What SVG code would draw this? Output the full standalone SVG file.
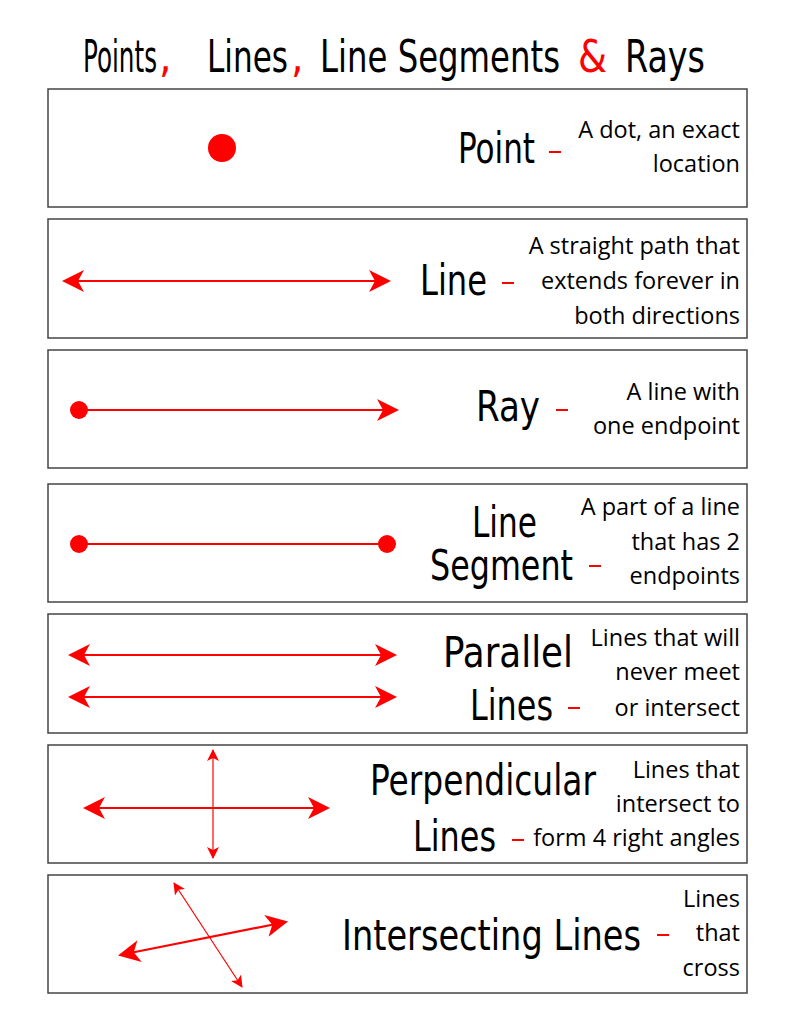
<svg xmlns="http://www.w3.org/2000/svg" width="791" height="1024" viewBox="0 0 791 1024">
<style>
.box{fill:#fff;stroke:#444;stroke-width:1.5}
.big{font-family:"DejaVu Sans Condensed","DejaVu Sans",sans-serif;font-size:42px;fill:#000}
.ttl{font-family:"DejaVu Sans Condensed","DejaVu Sans",sans-serif;font-size:44px;fill:#000}
.rc{fill:#f00}
.desc{font-family:"Open Sans","Liberation Sans",sans-serif;font-size:23.5px;fill:#000;text-anchor:end}
.dash{stroke:#f00;stroke-width:2}
.ln{stroke:#f00;stroke-width:2.2;fill:none}
.thin{stroke:#f00;stroke-width:1.2;fill:none}
.red{fill:#f00}
</style>
<defs>
<marker id="ah" markerUnits="userSpaceOnUse" viewBox="0 0 22 22" refX="20" refY="11" markerWidth="22" markerHeight="22" orient="auto-start-reverse"><path d="M0,0 L22,11 L0,22 L6,11 z" fill="#f00"/></marker>
<marker id="as" markerUnits="userSpaceOnUse" viewBox="0 0 12 12" refX="11" refY="6" markerWidth="12" markerHeight="12" orient="auto-start-reverse"><path d="M0,0 L12,6 L0,12 L3,6 z" fill="#f00"/></marker>
</defs>
<rect width="791" height="1024" fill="#fff"/>
<g id="title">
<text class="ttl" x="83" y="72" textLength="74" lengthAdjust="spacingAndGlyphs">Points</text>
<text class="ttl rc" x="159" y="72">,</text>
<text class="ttl" x="207" y="72" textLength="81" lengthAdjust="spacingAndGlyphs">Lines</text>
<text class="ttl rc" x="291" y="72">,</text>
<text class="ttl" x="320" y="72" textLength="240" lengthAdjust="spacingAndGlyphs">Line Segments</text>
<text class="ttl rc" x="578" y="72" textLength="29" lengthAdjust="spacingAndGlyphs">&amp;</text>
<text class="ttl" x="625" y="72" textLength="80" lengthAdjust="spacingAndGlyphs">Rays</text>
</g>

<g id="point"><rect class="box" x="48" y="89" width="699" height="118"/>
<circle class="red" cx="222" cy="148" r="14"/>
<text class="big" x="458" y="163" textLength="77" lengthAdjust="spacingAndGlyphs">Point</text>
<line class="dash" x1="549" y1="152" x2="561" y2="152"/>
<text class="desc" x="740" y="138">A dot, an exact</text><text class="desc" x="740" y="172">location</text></g>

<g id="line"><rect class="box" x="48" y="219" width="699" height="119"/>
<text class="big" x="420" y="295" textLength="67" lengthAdjust="spacingAndGlyphs">Line</text>
<line class="dash" x1="502" y1="283" x2="514" y2="283"/>
<text class="desc" x="740" y="254">A straight path that</text><text class="desc" x="740" y="289">extends forever in</text><text class="desc" x="740" y="324">both directions</text></g>

<g id="ray"><rect class="box" x="48" y="350" width="699" height="118"/>
<circle class="red" cx="79" cy="410" r="9"/>
<text class="big" x="476" y="421" textLength="64" lengthAdjust="spacingAndGlyphs">Ray</text>
<line class="dash" x1="556" y1="410" x2="568" y2="410"/>
<text class="desc" x="740" y="400">A line with</text><text class="desc" x="740" y="434">one endpoint</text></g>

<g id="segment"><rect class="box" x="48" y="484" width="699" height="118"/>
<circle class="red" cx="79" cy="544" r="9"/><circle class="red" cx="387" cy="544" r="9"/>
<text class="big" x="472" y="537" textLength="65" lengthAdjust="spacingAndGlyphs">Line</text>
<text class="big" x="430" y="580" textLength="143" lengthAdjust="spacingAndGlyphs">Segment</text>
<line class="dash" x1="589" y1="566" x2="601" y2="566"/>
<text class="desc" x="740" y="515">A part of a line</text><text class="desc" x="740" y="550">that has 2</text><text class="desc" x="740" y="584">endpoints</text></g>

<g id="parallel"><rect class="box" x="48" y="614" width="699" height="119"/>
<text class="big" x="443" y="667" textLength="130" lengthAdjust="spacingAndGlyphs">Parallel</text>
<text class="big" x="470" y="720" textLength="83" lengthAdjust="spacingAndGlyphs">Lines</text>
<line class="dash" x1="568" y1="708" x2="580" y2="708"/>
<text class="desc" x="740" y="646">Lines that will</text><text class="desc" x="740" y="680">never meet</text><text class="desc" x="740" y="716">or intersect</text></g>

<g id="perpendicular"><rect class="box" x="48" y="745" width="699" height="118"/>
<text class="big" x="370" y="795" textLength="226" lengthAdjust="spacingAndGlyphs">Perpendicular</text>
<text class="big" x="413" y="851" textLength="83" lengthAdjust="spacingAndGlyphs">Lines</text>
<line class="dash" x1="512" y1="840" x2="524" y2="840"/>
<text class="desc" x="740" y="778">Lines that</text><text class="desc" x="740" y="812">intersect to</text><text class="desc" x="740" y="846">form 4 right angles</text></g>

<g id="intersecting"><rect class="box" x="48" y="875" width="699" height="118"/>
<text class="big" x="342" y="950" textLength="299" lengthAdjust="spacingAndGlyphs">Intersecting Lines</text>
<line class="dash" x1="657" y1="935" x2="669" y2="935"/>
<text class="desc" x="740" y="907">Lines</text><text class="desc" x="740" y="941">that</text><text class="desc" x="740" y="976">cross</text></g>

<g id="connectors">
<line class="ln" x1="64" y1="281" x2="389" y2="281" marker-start="url(#ah)" marker-end="url(#ah)"/>
<line class="ln" x1="79" y1="410" x2="397" y2="410" marker-end="url(#ah)"/>
<line class="ln" x1="79" y1="544" x2="387" y2="544"/>
<line class="ln" x1="70" y1="655" x2="395" y2="655" marker-start="url(#ah)" marker-end="url(#ah)"/>
<line class="ln" x1="70" y1="697" x2="395" y2="697" marker-start="url(#ah)" marker-end="url(#ah)"/>
<line class="ln" x1="85" y1="808" x2="328" y2="808" marker-start="url(#ah)" marker-end="url(#ah)"/>
<line class="thin" x1="213" y1="750" x2="213" y2="858" marker-start="url(#as)" marker-end="url(#as)"/>
<line class="ln" x1="120" y1="955" x2="286" y2="922" marker-start="url(#ah)" marker-end="url(#ah)"/>
<line class="thin" x1="174" y1="883" x2="242" y2="987" marker-start="url(#as)" marker-end="url(#as)"/>
</g>
</svg>
